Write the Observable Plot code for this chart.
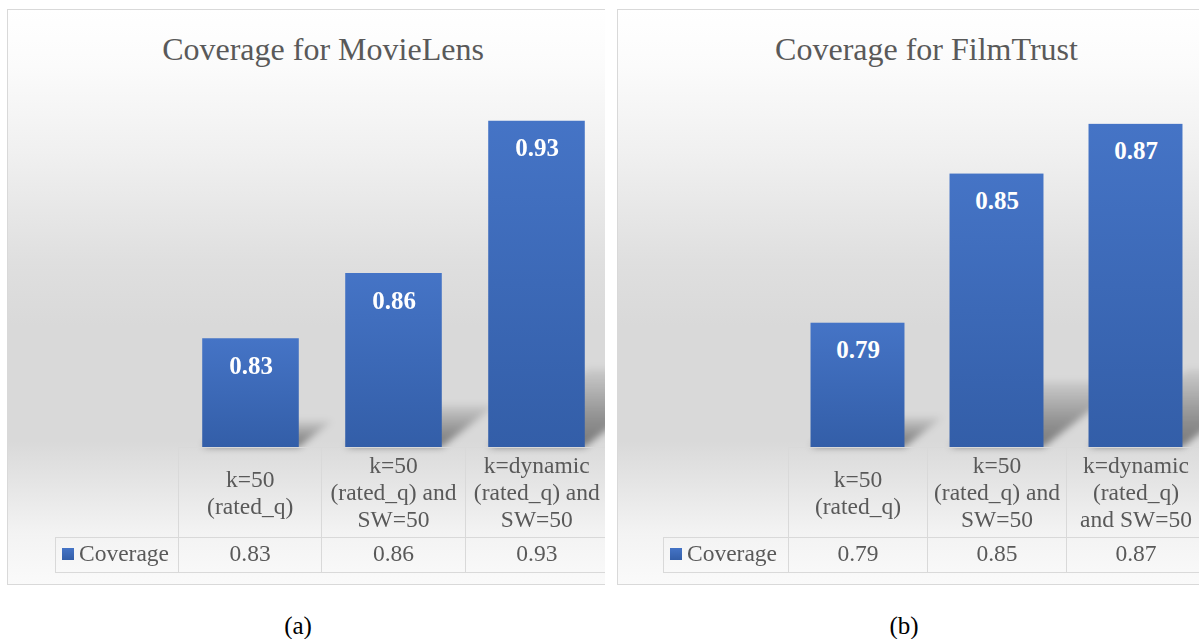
<!DOCTYPE html>
<html>
<head>
<meta charset="utf-8">
<script src="https://cdn.jsdelivr.net/npm/d3@7"></script>
<script src="https://cdn.jsdelivr.net/npm/@observablehq/plot@0.6"></script>
<style>
  body { margin: 0; background: #fff; font-family: "Liberation Serif", "Times New Roman", serif; }
  #page { position: relative; width: 1199px; height: 639px; overflow: hidden; background: #fff; }
  .panel {
    position: absolute; top: 9px; height: 576px; overflow: hidden;
    background: linear-gradient(to bottom, #ffffff 0%, #fbfbfb 10%, #f0f0f0 25%, #dfdfdf 44%, #d9d9d9 55%, #d9d9d9 75%, #e6e6e6 83%, #f3f3f3 91%, #fafafa 100%);
    box-shadow: inset 1px 1px 0 #d9d9d9, inset 0 -1px 0 #d9d9d9;
  }
  .title { position: absolute; top: 24px; left: 0; text-align: center; font-size: 32px; line-height: 32px; color: #595959; white-space: nowrap; }
  table.dt { position: absolute; border-collapse: collapse; table-layout: fixed; font-size: 23.5px; color: #595959; }
  table.dt td { border: 1px solid #d9d9d9; padding: 0; text-align: center; vertical-align: middle; white-space: pre-line; line-height: 27px; }
  table.dt tr.cats td { height: 89px; }
  table.dt tr.vals td { height: 30px; padding-bottom: 4px; }
  table.dt td.corner { border-top: none; border-left: none; }
  table.dt td.legend { text-align: left; padding-left: 6px; white-space: nowrap; }
  .swatch { display: inline-block; width: 12px; height: 12px; margin-right: 5px; vertical-align: 1px; background: linear-gradient(to bottom, #4574c6, #335ea8); }
  .caption { position: absolute; top: 611px; font-size: 25px; line-height: 30px; color: #000; transform: translateX(-50%); }
</style>
</head>
<body>
<div id="page"></div>
<script>
// Series name shared by both charts
const seriesName = "Coverage";

// MovieLens
const titleMovieLens = "Coverage for MovieLens";
const categoriesMovieLens = ["k=50\n(rated_q)", "k=50\n(rated_q) and\nSW=50", "k=dynamic\n(rated_q) and\nSW=50"];
const coverageMovieLens = [0.83, 0.86, 0.93];
const yDomainMovieLens = [0.78, 0.94];

// FilmTrust
const titleFilmTrust = "Coverage for FilmTrust";
const categoriesFilmTrust = ["k=50\n(rated_q)", "k=50\n(rated_q) and\nSW=50", "k=dynamic\n(rated_q)\nand SW=50"];
const coverageFilmTrust = [0.79, 0.85, 0.87];
const yDomainFilmTrust = [0.74, 0.88];

const captions = ["(a)", "(b)"];

const page = document.getElementById("page");

function drawPanel(cfg) {
  const panel = document.createElement("div");
  panel.className = "panel";
  panel.style.left = cfg.left + "px";
  panel.style.width = cfg.visibleWidth + "px";
  page.appendChild(panel);

  const title = document.createElement("div");
  title.className = "title";
  title.style.width = cfg.fullWidth + "px";
  title.textContent = cfg.title;
  panel.appendChild(title);

  const data = cfg.categories.map((c, i) => ({cat: c, value: cfg.values[i]}));
  const yMin = cfg.yDomain[0];
  const colWidth = cfg.colWidth;
  const inset = colWidth * 0.162;
  const gradId = "bar-grad-" + cfg.key;
  const shadeId = "shadow-grad-" + cfg.key;
  const blurId = "shadow-blur-" + cfg.key;
  const marginLeft = cfg.plotLeft;
  const marginRight = 10;
  const width = marginLeft + 3 * colWidth + marginRight;

  const svg = Plot.plot({
    width,
    height: 576,
    marginTop: 90,
    marginBottom: 138,
    marginLeft,
    marginRight,
    x: {domain: cfg.categories, paddingInner: 0, paddingOuter: 0, axis: null},
    y: {domain: cfg.yDomain, axis: null},
    style: {background: "transparent", maxWidth: "none", overflow: "visible"},
    marks: [
      // perspective shadow cast by each bar (skewed + blurred below)
      Plot.barY(data, {x: "cat", y1: yMin, y2: d => yMin + (d.value - yMin) * 0.24,
        fill: `url(#${shadeId})`, insetLeft: inset, insetRight: inset}),
      Plot.barY(data, {x: "cat", y1: yMin, y2: "value", fill: `url(#${gradId})`,
        insetLeft: inset, insetRight: inset}),
      Plot.text(data, {x: "cat", y: "value", text: d => d.value.toFixed(2), dy: 27,
        fill: "white", fontWeight: "bold", fontSize: 25, fontFamily: "Liberation Serif"})
    ]
  });
  svg.style.position = "absolute";
  svg.style.left = "0px";
  svg.style.top = "0px";

  const s = d3.select(svg);
  const defs = s.insert("defs", ":first-child");
  const g = defs.append("linearGradient").attr("id", gradId)
    .attr("x1", 0).attr("y1", 0).attr("x2", 0).attr("y2", 1);
  g.append("stop").attr("offset", "0%").attr("stop-color", "#4574c6");
  g.append("stop").attr("offset", "100%").attr("stop-color", "#335ea8");
  const sg = defs.append("linearGradient").attr("id", shadeId)
    .attr("x1", 0).attr("y1", 0).attr("x2", 0).attr("y2", 1);
  sg.append("stop").attr("offset", "0%").attr("stop-color", "#000").attr("stop-opacity", 0.06);
  sg.append("stop").attr("offset", "60%").attr("stop-color", "#000").attr("stop-opacity", 0.32);
  sg.append("stop").attr("offset", "100%").attr("stop-color", "#000").attr("stop-opacity", 0.45);
  defs.append("filter").attr("id", blurId)
    .attr("x", "-50%").attr("y", "-50%").attr("width", "200%").attr("height", "200%")
    .append("feGaussianBlur").attr("stdDeviation", 3.5);

  const shadowGroup = s.selectAll('g[aria-label="bar"]').nodes()[0];
  d3.select(shadowGroup).attr("filter", `url(#${blurId})`)
    .selectAll("rect").attr("transform", function() {
      const yb = +this.getAttribute("y") + +this.getAttribute("height");
      return `translate(0,${yb}) skewX(-52) translate(0,${-yb})`;
    });
  panel.appendChild(svg);

  // data table under the bars
  const table = document.createElement("table");
  table.className = "dt";
  table.style.left = cfg.tableLeft + "px";
  table.style.top = "438px";
  const firstCol = marginLeft - cfg.tableLeft;
  table.style.width = (firstCol + 3 * colWidth) + "px";
  const colgroup = document.createElement("colgroup");
  [firstCol, colWidth, colWidth, colWidth].forEach(w => {
    const col = document.createElement("col");
    col.style.width = w + "px";
    colgroup.appendChild(col);
  });
  table.appendChild(colgroup);

  const r1 = table.insertRow();
  r1.className = "cats";
  const corner = r1.insertCell();
  corner.className = "corner";
  cfg.categories.forEach(c => { r1.insertCell().textContent = c; });

  const r2 = table.insertRow();
  r2.className = "vals";
  const leg = r2.insertCell();
  leg.className = "legend";
  const sw = document.createElement("span");
  sw.className = "swatch";
  leg.appendChild(sw);
  leg.appendChild(document.createTextNode(seriesName));
  cfg.values.forEach(v => { r2.insertCell().textContent = v.toFixed(2); });
  panel.appendChild(table);

  const cap = document.createElement("div");
  cap.className = "caption";
  cap.style.left = cfg.captionX + "px";
  cap.textContent = cfg.caption;
  page.appendChild(cap);
}

drawPanel({key: "ml", left: 7, visibleWidth: 598, fullWidth: 632, title: titleMovieLens,
  categories: categoriesMovieLens, values: coverageMovieLens, yDomain: yDomainMovieLens,
  plotLeft: 171, colWidth: 430 / 3, tableLeft: 48, caption: captions[0], captionX: 298});

drawPanel({key: "ft", left: 617, visibleWidth: 582, fullWidth: 619, title: titleFilmTrust,
  categories: categoriesFilmTrust, values: coverageFilmTrust, yDomain: yDomainFilmTrust,
  plotLeft: 171, colWidth: 139, tableLeft: 46, caption: captions[1], captionX: 904});
</script>
</body>
</html>
